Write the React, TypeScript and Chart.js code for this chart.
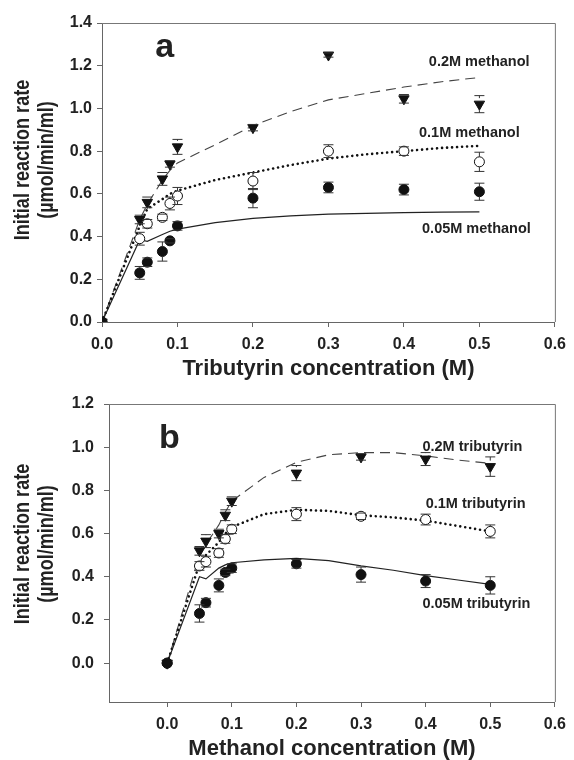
import React, { useEffect, useRef } from 'react';
import { Chart, registerables } from 'chart.js';

Chart.register(...registerables);

const FONT = "'Liberation Sans', Arial, Helvetica, sans-serif";

// Concentrations of measured points (M)
const conc = [0, 0.05, 0.06, 0.08, 0.09, 0.1, 0.2, 0.3, 0.4, 0.5];
// Concentrations at which the model curves are drawn (M)
const fitConc = [0, 0.05, 0.06, 0.08, 0.09, 0.1, 0.15, 0.2, 0.25, 0.3, 0.35, 0.4, 0.45, 0.5];

const xTickValues = [0, 0.1, 0.2, 0.3, 0.4, 0.5, 0.6];
const yTickValuesA = [0, 0.2, 0.4, 0.6, 0.8, 1.0, 1.2, 1.4];
const yTickValuesB = [0, 0.2, 0.4, 0.6, 0.8, 1.0, 1.2];

const yTitleLines = ['Initial reaction rate', '(\u00b5mol/min/ml)'];

// ---- Panel a: varying tributyrin, fixed methanol ----
const aMeth005 = [0, 0.23, 0.28, 0.33, 0.38, 0.45, 0.58, 0.63, 0.62, 0.61];
const aMeth005Err = [0, 0.03, 0.02, 0.045, 0.01, 0.02, 0.045, 0.025, 0.025, 0.04];
const aMeth01 = [0, 0.39, 0.46, 0.49, 0.555, 0.59, 0.66, 0.80, 0.80, 0.75];
const aMeth01Err = [0, 0.03, 0.02, 0.015, 0.03, 0.04, 0.04, 0.03, 0.02, 0.045];
const aMeth02 = [0, 0.48, 0.56, 0.67, 0.74, 0.82, 0.91, 1.25, 1.045, 1.02];
const aMeth02Err = [0, 0.02, 0.025, 0.03, 0.015, 0.035, 0.015, 0.01, 0.02, 0.04];

const aFit005 = [0, 0.385, 0.378, 0.41, 0.425, 0.435, 0.465, 0.485, 0.497, 0.505, 0.509, 0.512, 0.514, 0.516];
const aFit01 = [0, 0.45, 0.53, 0.575, 0.6, 0.615, 0.665, 0.7, 0.735, 0.765, 0.785, 0.8, 0.815, 0.825];
const aFit02 = [0, 0.48, 0.55, 0.665, 0.71, 0.745, 0.83, 0.92, 0.985, 1.04, 1.07, 1.1, 1.125, 1.145];

// ---- Panel b: varying methanol, fixed tributyrin ----
const bTri005 = [0, 0.23, 0.28, 0.36, 0.42, 0.44, 0.46, 0.41, 0.38, 0.36];
const bTri005Err = [0, 0.04, 0.02, 0.03, 0.015, 0.02, 0.02, 0.035, 0.03, 0.04];
const bTri01 = [0, 0.45, 0.47, 0.51, 0.575, 0.62, 0.69, 0.68, 0.665, 0.61];
const bTri01Err = [0, 0.02, 0.025, 0.02, 0.02, 0.02, 0.03, 0.015, 0.025, 0.03];
const bTri02 = [0, 0.52, 0.565, 0.6, 0.685, 0.75, 0.88, 0.955, 0.945, 0.91];
const bTri02Err = [0, 0.02, 0.03, 0.02, 0.025, 0.02, 0.035, 0.015, 0.03, 0.045];

const bFit005 = [0, 0.4, 0.39, 0.44, 0.455, 0.465, 0.478, 0.485, 0.475, 0.45, 0.43, 0.405, 0.385, 0.365];
const bFit01 = [0, 0.46, 0.5, 0.56, 0.6, 0.63, 0.69, 0.71, 0.705, 0.685, 0.675, 0.66, 0.635, 0.61];
const bFit02 = [0, 0.5, 0.55, 0.64, 0.7, 0.75, 0.86, 0.93, 0.965, 0.975, 0.975, 0.96, 0.94, 0.925];

const lineSolid = { color: '#222', width: 1.2, dash: [] as number[], cap: 'butt' };
const lineDotted = { color: '#111', width: 2.6, dash: [0.01, 5], cap: 'round' };
const lineDashed = { color: '#444', width: 1.1, dash: [10, 6], cap: 'butt' };

const markFilled = { pointStyle: 'circle', radius: 5, rotation: 0, fill: '#111' };
const markOpen = { pointStyle: 'circle', radius: 5, rotation: 0, fill: '#ffffff' };
const markTri = { pointStyle: 'triangle', radius: 6, rotation: 180, fill: '#111' };

type Label = { text: string; x: number; y: number; size: number; align: CanvasTextAlign; baseline: CanvasTextBaseline };

const panelA = {
  left: 102, top: 23, right: 18,
  xMin: 0, xMax: 0.6, yMin: 0, yMax: 1.4,
  yTicks: yTickValuesA, tickPad: 5,
  xTitle: 'Tributyrin concentration (M)',
  yTitleCenter: 160,
  fits: [
    { values: aFit005, style: lineSolid },
    { values: aFit01, style: lineDotted },
    { values: aFit02, style: lineDashed },
  ],
  series: [
    { values: aMeth005, errors: aMeth005Err, mark: markFilled },
    { values: aMeth01, errors: aMeth01Err, mark: markOpen },
    { values: aMeth02, errors: aMeth02Err, mark: markTri },
  ],
  labels: [
    { text: 'a', x: 0.083, y: 1.24, size: 34, align: 'center', baseline: 'alphabetic' },
    { text: '0.2M methanol', x: 0.433, y: 1.217, size: 14.5, align: 'left', baseline: 'middle' },
    { text: '0.1M methanol', x: 0.42, y: 0.885, size: 14.5, align: 'left', baseline: 'middle' },
    { text: '0.05M methanol', x: 0.424, y: 0.435, size: 14.5, align: 'left', baseline: 'middle' },
  ] as Label[],
};

const panelB = {
  left: 109, top: 24, right: 14,
  xMin: -0.09, xMax: 0.6, yMin: -0.18, yMax: 1.2,
  yTicks: yTickValuesB, tickPad: 10,
  xTitle: 'Methanol concentration (M)',
  yTitleCenter: 164,
  fits: [
    { values: bFit005, style: lineSolid },
    { values: bFit01, style: lineDotted },
    { values: bFit02, style: lineDashed },
  ],
  series: [
    { values: bTri005, errors: bTri005Err, mark: markFilled },
    { values: bTri01, errors: bTri01Err, mark: markOpen },
    { values: bTri02, errors: bTri02Err, mark: markTri },
  ],
  labels: [
    { text: 'b', x: 0.0035, y: 0.995, size: 34, align: 'center', baseline: 'alphabetic' },
    { text: '0.2M tributyrin', x: 0.395, y: 1.0, size: 14.5, align: 'left', baseline: 'middle' },
    { text: '0.1M tributyrin', x: 0.4, y: 0.736, size: 14.5, align: 'left', baseline: 'middle' },
    { text: '0.05M tributyrin', x: 0.395, y: 0.273, size: 14.5, align: 'left', baseline: 'middle' },
  ] as Label[],
};

function PanelChart({ cfg }: { cfg: typeof panelA }) {
  const ref = useRef<HTMLCanvasElement>(null);

  useEffect(() => {
    const canvas = ref.current!;
    const datasets: any[] = [];
    cfg.series.forEach((s) => {
      datasets.push({
        type: 'line',
        showLine: false,
        data: conc.map((x, i) => ({ x, y: s.values[i] })),
        errors: s.errors,
        pointStyle: s.mark.pointStyle,
        pointRadius: s.mark.radius,
        pointRotation: s.mark.rotation,
        pointBackgroundColor: s.mark.fill,
        pointBorderColor: '#111',
        pointBorderWidth: 1,
        order: 1,
      });
    });
    cfg.fits.forEach((f) => {
      datasets.push({
        type: 'line',
        data: fitConc.map((x, i) => ({ x, y: f.values[i] })),
        borderColor: f.style.color,
        borderWidth: f.style.width,
        borderDash: f.style.dash,
        borderCapStyle: f.style.cap,
        pointRadius: 0,
        fill: false,
        tension: 0,
        order: 2,
      });
    });

    const errorBars = {
      id: 'errorBars',
      afterDatasetsDraw(chart: any) {
        const ctx = chart.ctx;
        const ys = chart.scales.y;
        chart.data.datasets.forEach((ds: any, i: number) => {
          if (!ds.errors) return;
          const meta = chart.getDatasetMeta(i);
          const r = ds.pointRadius || 0;
          ctx.save();
          ctx.strokeStyle = '#333';
          ctx.lineWidth = 1;
          meta.data.forEach((pt: any, j: number) => {
            const e = ds.errors[j];
            if (!e) return;
            const v = ds.data[j].y;
            const x = pt.x;
            const y = pt.y;
            const yTop = ys.getPixelForValue(v + e);
            const yBot = ys.getPixelForValue(v - e);
            ctx.beginPath();
            if (y - yTop > r) { ctx.moveTo(x, yTop); ctx.lineTo(x, y - r); }
            if (yBot - y > r) { ctx.moveTo(x, y + r); ctx.lineTo(x, yBot); }
            ctx.moveTo(x - 5, yTop); ctx.lineTo(x + 5, yTop);
            ctx.moveTo(x - 5, yBot); ctx.lineTo(x + 5, yBot);
            ctx.stroke();
          });
          ctx.restore();
        });
      },
    };

    const decorations = {
      id: 'decorations',
      afterDraw(chart: any) {
        const ctx = chart.ctx;
        const ca = chart.chartArea;
        const xs = chart.scales.x;
        const ys = chart.scales.y;
        // top and right frame lines
        ctx.save();
        ctx.strokeStyle = '#777';
        ctx.lineWidth = 1;
        ctx.beginPath();
        ctx.moveTo(ca.left, ca.top + 0.5);
        ctx.lineTo(ca.right + 0.5, ca.top + 0.5);
        ctx.lineTo(ca.right + 0.5, ca.bottom);
        ctx.stroke();
        ctx.restore();
        // annotations
        ctx.save();
        ctx.fillStyle = '#222';
        cfg.labels.forEach((l) => {
          ctx.font = `bold ${l.size}px ${FONT}`;
          ctx.textAlign = l.align;
          ctx.textBaseline = l.baseline;
          ctx.fillText(l.text, xs.getPixelForValue(l.x), ys.getPixelForValue(l.y));
        });
        ctx.restore();
        // y-axis title (two lines, slightly condensed)
        ctx.save();
        ctx.fillStyle = '#222';
        ctx.font = `bold 22px ${FONT}`;
        ctx.textAlign = 'center';
        ctx.textBaseline = 'middle';
        const xsPos = [23, 47];
        yTitleLines.forEach((t, i) => {
          ctx.save();
          ctx.translate(xsPos[i], cfg.yTitleCenter);
          ctx.rotate(-Math.PI / 2);
          ctx.scale(0.82, 1);
          ctx.fillText(t, 0, 0);
          ctx.restore();
        });
        ctx.restore();
      },
    };

    const tickFont = { family: FONT, size: 16, weight: 'bold' as const };

    const chart = new Chart(canvas, {
      type: 'line',
      data: { datasets },
      plugins: [errorBars, decorations],
      options: {
        animation: false,
        responsive: false,
        devicePixelRatio: 1,
        layout: { padding: { top: cfg.top, right: cfg.right, left: 0, bottom: 0 } },
        plugins: { legend: { display: false }, tooltip: { enabled: false } },
        scales: {
          x: {
            type: 'linear',
            min: cfg.xMin,
            max: cfg.xMax,
            afterBuildTicks: (s: any) => { s.ticks = xTickValues.map((v) => ({ value: v })); },
            afterFit: (s: any) => { s.height = 58; },
            ticks: {
              autoSkip: false,
              maxRotation: 0,
              padding: 8,
              color: '#222',
              font: tickFont,
              callback: (v: any) => Number(v).toFixed(1),
            },
            grid: { drawOnChartArea: false, drawTicks: true, tickLength: 5, color: '#666' },
            border: { display: true, color: '#666', width: 1 },
            title: {
              display: true,
              text: cfg.xTitle,
              color: '#222',
              font: { family: FONT, size: 22, weight: 'bold', lineHeight: 1 },
              padding: { top: 0, bottom: 0 },
            },
          },
          y: {
            type: 'linear',
            min: cfg.yMin,
            max: cfg.yMax,
            afterBuildTicks: (s: any) => { s.ticks = cfg.yTicks.map((v) => ({ value: v })); },
            afterFit: (s: any) => { s.width = cfg.left; },
            ticks: {
              autoSkip: false,
              padding: cfg.tickPad,
              color: '#222',
              font: tickFont,
              callback: (v: any) => Number(v).toFixed(1),
            },
            grid: { drawOnChartArea: false, drawTicks: true, tickLength: 5, color: '#666' },
            border: { display: true, color: '#666', width: 1 },
          },
        },
      } as any,
    });
    return () => chart.destroy();
  }, [cfg]);

  return <canvas ref={ref} width={574} height={380} style={{ display: 'block', width: 574, height: 380 }} />;
}

export default function App() {
  return (
    <div style={{ position: 'absolute', left: 0, top: 0, width: 574, height: 760, background: '#fff' }}>
      <PanelChart cfg={panelA} />
      <PanelChart cfg={panelB as any} />
    </div>
  );
}
